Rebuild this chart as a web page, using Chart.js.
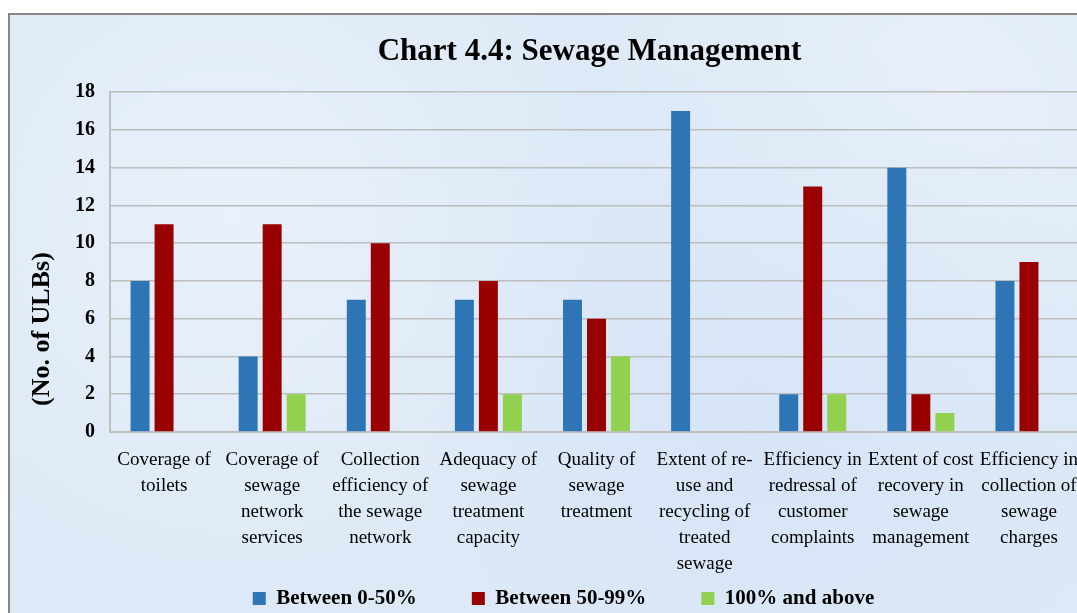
<!DOCTYPE html>
<html>
<head>
<meta charset="utf-8">
<script src="https://cdn.jsdelivr.net/npm/chart.js@4.4.1/dist/chart.umd.min.js"></script>
<style>
  html, body { margin: 0; padding: 0; background: #fff; overflow: hidden; }
  #frame {
    position: absolute; left: 8px; top: 13px;
    width: 1100px; height: 670px;
    border: 2px solid #878787;
    background-color: #dde9f7;
    background-image:
      radial-gradient(circle at 20% 30%, rgba(255,255,255,0.35), rgba(255,255,255,0) 40%),
      radial-gradient(circle at 70% 60%, rgba(200,220,245,0.35), rgba(200,220,245,0) 45%),
      radial-gradient(circle at 85% 15%, rgba(255,255,255,0.3), rgba(255,255,255,0) 35%);
  }
  #sewageChart { position: absolute; left: 0; top: 0; }
</style>
</head>
<body>
<div id="frame">
  <canvas id="sewageChart" width="1073" height="655"></canvas>
</div>
<script>
const categories = [
  ['Coverage of', 'toilets'],
  ['Coverage of', 'sewage', 'network', 'services'],
  ['Collection', 'efficiency of', 'the sewage', 'network'],
  ['Adequacy of', 'sewage', 'treatment', 'capacity'],
  ['Quality of', 'sewage', 'treatment'],
  ['Extent of re-', 'use and', 'recycling of', 'treated', 'sewage'],
  ['Efficiency in', 'redressal of', 'customer', 'complaints'],
  ['Extent of cost', 'recovery in', 'sewage', 'management'],
  ['Efficiency in', 'collection of', 'sewage', 'charges']
]
const between0to50 = [8, 4, 7, 7, 7, 17, 2, 14, 8]
const between50to99 = [11, 11, 10, 8, 6, 0, 13, 2, 9]
const hundredAndAbove = [0, 2, 0, 2, 4, 0, 2, 1, 0]
const yTicks = [0, 2, 4, 6, 8, 10, 12, 14, 16, 18]

const serif = "'Liberation Serif', 'Times New Roman', serif"

// Excel placed the legend and title a bit off the plot centre
const nudge = {
  id: 'nudge',
  afterLayout(chart) {
    chart.legend.left += 17
    chart.legend.right += 17
    chart.legend.top -= 51
    chart.legend.bottom -= 51
    chart.titleBlock.left -= 7
    chart.titleBlock.right -= 7
  }
}

let elem = document.getElementById('sewageChart')
let chart = new Chart(elem, {
  type: 'bar',
  data: {
    labels: categories,
    datasets: [
      { label: 'Between 0-50%', data: between0to50, backgroundColor: '#2e75b6' },
      { label: 'Between 50-99%', data: between50to99, backgroundColor: '#990000' },
      { label: '100% and above', data: hundredAndAbove, backgroundColor: '#92d050' }
    ]
  },
  plugins: [nudge],
  options: {
    responsive: false,
    animation: false,
    categoryPercentage: 0.666,
    barPercentage: 0.79,
    layout: { padding: 0 },
    plugins: {
      title: {
        display: true,
        text: 'Chart 4.4: Sewage Management',
        color: '#000',
        fullSize: false,
        font: { family: serif, size: 31, weight: 'bold', lineHeight: 1.2 },
        padding: { top: 18, bottom: 22 }
      },
      legend: {
        position: 'bottom',
        labels: {
          color: '#000',
          boxWidth: 13,
          boxHeight: 13,
          padding: 55,
          font: { family: serif, size: 21, weight: 'bold' }
        }
      },
      tooltip: { enabled: false }
    },
    scales: {
      x: {
        grid: { display: false },
        border: { display: true, color: '#c0c0c0', width: 2 },
        ticks: {
          color: '#000',
          maxRotation: 0,
          autoSkip: false,
          padding: 7,
          font: { family: serif, size: 19, lineHeight: 26 / 19 }
        },
        afterFit(axis) {
          axis.paddingLeft = 0
          axis.paddingRight = 0
        }
      },
      y: {
        min: 0,
        max: 18,
        afterBuildTicks(axis) { axis.ticks = yTicks.map(v => ({ value: v })) },
        grid: { color: '#bdbdbd', lineWidth: 1.5, drawTicks: false },
        border: { display: true, color: '#c0c0c0', width: 2 },
        ticks: {
          color: '#000',
          padding: 15,
          font: { family: serif, size: 20, weight: 'bold' }
        },
        title: {
          display: true,
          text: '    (No. of ULBs)',
          align: 'start',
          color: '#000',
          font: { family: serif, size: 26, weight: 'bold' },
          padding: { top: 17, bottom: 0 }
        },
        afterFit(axis) { axis.width = 100 }
      }
    }
  }
})
</script>
</body>
</html>
